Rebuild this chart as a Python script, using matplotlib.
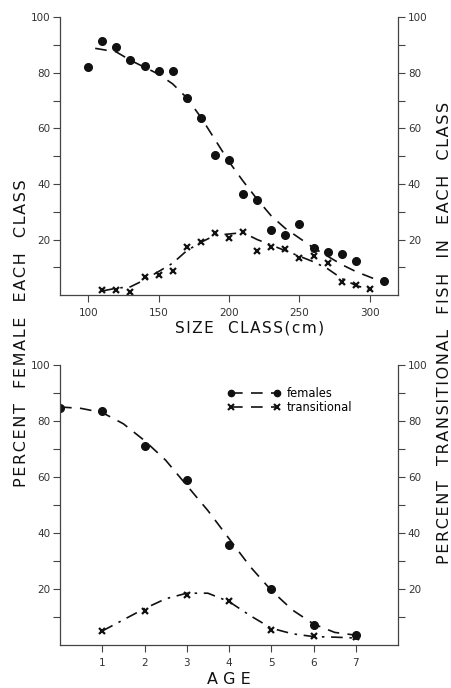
import matplotlib
matplotlib.use('Agg')
import matplotlib.pyplot as plt
from matplotlib.ticker import FuncFormatter
from matplotlib.lines import Line2D

# top panel: size class (cm)
size_cls = [100, 110, 120, 130, 140, 150, 160, 170, 180, 190, 200, 210, 220,
            230, 240, 250, 260, 270, 280, 290, 310]
fem_size = [82, 91.6, 89.4, 84.5, 82.4, 80.8, 80.7, 71, 63.9, 50.5, 48.8, 36.4,
            34.3, 23.5, 21.6, 25.6, 16.8, 15.4, 14.7, 12.2, 5.0]
trans_cls = [110, 120, 130, 140, 150, 160, 170, 180, 190, 200, 210, 220, 230,
             240, 250, 260, 270, 280, 290, 300]
trans_size = [1.8, 1.7, 1.1, 6.7, 7.1, 8.7, 17.3, 19.3, 22.5, 20.7, 22.7, 15.9,
              17.5, 16.5, 13.4, 14.0, 11.5, 4.9, 3.5, 2.2]

# hand-drawn fitted curves
fit_fem_x = [105, 120, 130, 140, 150, 160, 170, 180, 190, 200, 210, 220, 230,
             240, 250, 260, 270, 280, 290, 300, 310]
fit_fem_y = [88.8, 87.5, 84.5, 82, 79.5, 76, 71, 64, 56, 48, 41, 34.5, 28.5,
             24, 20.5, 17, 14, 11, 8.5, 6.5, 4.5]
fit_tr_x = [110, 120, 130, 140, 150, 160, 170, 180, 190, 200, 210, 220, 230,
            240, 250, 260, 270, 280, 290, 300]
fit_tr_y = [1.5, 2.5, 3, 5.5, 8.5, 11.5, 16, 19, 21.5, 22, 22.5, 20, 18, 16,
            14, 12, 9.5, 6, 3.5, 2]

# bottom panel: age
ages_f = [0, 1, 2, 3, 4, 5, 6, 7]
fem_age = [84.5, 83.6, 71.1, 58.9, 35.6, 20.1, 7.0, 3.5]
ages_t = [1, 2, 3, 4, 5, 6, 7]
trans_age = [5.1, 12.3, 18.0, 15.7, 5.4, 3.2, 3.0]

fit_age_f = [0, 0.5, 1, 1.5, 2, 2.5, 3, 3.5, 4, 4.5, 5, 5.5, 6, 6.5, 7]
fit_fem_age = [85, 84.5, 83, 79, 73, 66, 57, 48, 38, 28, 19.5, 12.5, 7.5, 4.5, 3.5]
fit_age_t = [1, 1.5, 2, 2.5, 3, 3.5, 4, 4.5, 5, 5.5, 6, 6.5, 7]
fit_tr_age = [5, 9, 13, 16.5, 18.5, 18.5, 15.5, 10.5, 6, 4, 3, 2.8, 2.5]

ink = '#111111'
dash = (0, (7, 5))
dashdot = (0, (7, 4, 1.5, 4))


def spaced(s):
    # widen the lettering a little, like the stencil labels of the original
    return '\u200a'.join(s)


fig = plt.figure(figsize=(4.52, 6.88), dpi=100)
ax1 = fig.add_axes([0.1327, 0.571, 0.748, 0.404])
ax2 = fig.add_axes([0.1327, 0.0625, 0.748, 0.407])


def pct_fmt(v, pos):
    return f'{int(v)}' if int(round(v)) % 20 == 0 else ''


for ax in (ax1, ax2):
    ax.spines['top'].set_visible(False)
    for s in ('left', 'right', 'bottom'):
        ax.spines[s].set_color('#444444')
        ax.spines[s].set_linewidth(0.9)
    ax.set_ylim(0, 100)
    ax.set_yticks(range(10, 101, 10))
    ax.yaxis.set_major_formatter(FuncFormatter(pct_fmt))
    ax.tick_params(axis='y', direction='out', length=5, width=0.8,
                   left=True, right=True, labelleft=True, labelright=True,
                   labelsize=7.5, labelcolor='#333333', color='#444444', pad=2)
    ax.tick_params(axis='x', direction='out', length=5, width=0.8,
                   labelsize=7.5, labelcolor='#333333', color='#444444', pad=4)

# top panel
ax1.plot(fit_fem_x, fit_fem_y, color=ink, lw=1.2, linestyle=dash)
ax1.plot(fit_tr_x, fit_tr_y, color=ink, lw=1.2, linestyle=dashdot)
ax1.plot(size_cls, fem_size, 'o', color=ink, ms=5.5, linestyle='none')
ax1.plot(trans_cls, trans_size, 'x', color=ink, ms=4.5, mew=1.6, linestyle='none')
ax1.set_xlim(80, 320)
ax1.set_xticks([100, 150, 200, 250, 300])
ax1.set_xlabel(spaced('SIZE  CLASS(cm)'), fontsize=11, color=ink)
ax1.xaxis.set_label_coords(0.56, -0.09)

# bottom panel
ax2.plot(fit_age_f, fit_fem_age, color=ink, lw=1.2, linestyle=dash)
ax2.plot(fit_age_t, fit_tr_age, color=ink, lw=1.2, linestyle=dashdot)
ax2.plot(ages_f, fem_age, 'o', color=ink, ms=5.5, linestyle='none')
ax2.plot(ages_t, trans_age, 'x', color=ink, ms=4.5, mew=1.6, linestyle='none')
ax2.set_xlim(0, 8)
ax2.set_xticks(range(1, 8))
ax2.set_xlabel('A G E', fontsize=11.5, color=ink, labelpad=3)

lh_f = Line2D([], [], color=ink, marker='o', ms=4.5, lw=1.2, linestyle=dash)
lh_t = Line2D([], [], color=ink, marker='x', ms=4, mew=1.5, lw=1.2, linestyle=dash)
ax2.legend([lh_f, lh_t], ['females', 'transitional'], loc='upper left',
           bbox_to_anchor=(0.465, 0.96), frameon=False, numpoints=2,
           handlelength=4.6, handletextpad=0.5, labelspacing=0.15,
           fontsize=8.3)

fig.text(0.047, 0.516, spaced('PERCENT  FEMALE  EACH  CLASS'), rotation=90,
         ha='center', va='center', fontsize=11.5, color=ink)
fig.text(0.984, 0.516, spaced('PERCENT  TRANSITIONAL  FISH  IN  EACH  CLASS'),
         rotation=90, ha='center', va='center', fontsize=11.5, color=ink)

fig.savefig('out.png', dpi=100)
